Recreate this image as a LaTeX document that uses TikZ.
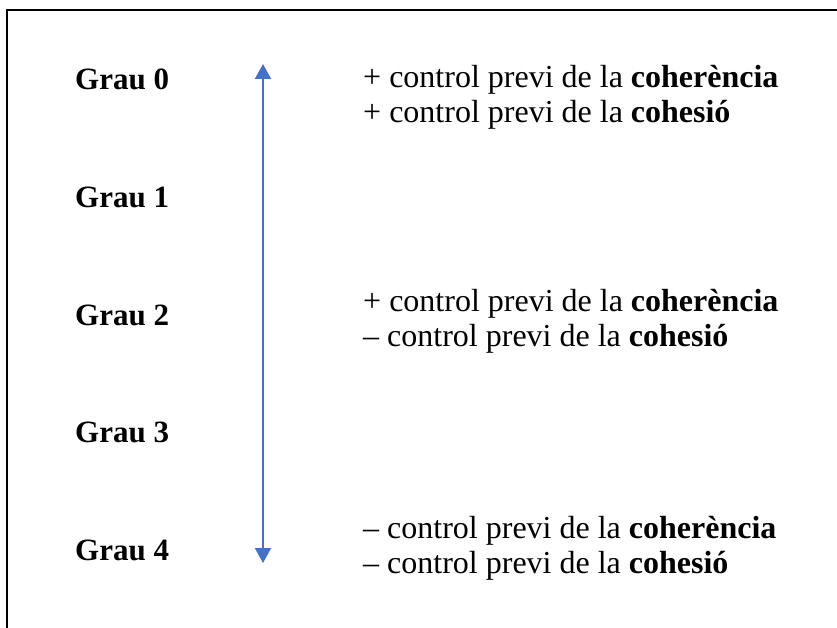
\documentclass[tikz,border=0pt]{standalone}
\usepackage{fontspec}
\setmainfont{Liberation Serif}
\usetikzlibrary{arrows.meta}
\definecolor{arrowblue}{RGB}{68,114,196}
\begin{document}
\begin{tikzpicture}[x=1pt,y=-1pt,
  grau/.style={anchor=base west,inner sep=0pt,font=\fontsize{31}{35}\selectfont\bfseries},
  desc/.style={anchor=base west,inner sep=0pt,font=\fontsize{32}{35}\selectfont},
  frameline/.style={line width=2pt,black},
  scalearrow/.style={line width=2pt,arrowblue,{Triangle[width=16pt,length=15pt]}-{Triangle[width=16pt,length=15pt]}}]
\useasboundingbox (0,0) rectangle (837,628);
\coordinate (tl) at (7,10.5);
\coordinate (tr) at (837,10.5);
\coordinate (bl) at (7,628);
\draw[frameline] (tr) -- (tl) -- (bl);
\node[grau] (g0) at (75,90) {Grau 0};
\node[grau] (g1) at (75,207.5) {Grau 1};
\node[grau] (g2) at (75,325) {Grau 2};
\node[grau] (g3) at (75,442.5) {Grau 3};
\node[grau] (g4) at (75,560) {Grau 4};
\coordinate (atop) at (263,64);
\coordinate (abot) at (263,563);
\draw[scalearrow] (abot) -- (atop);
\node[desc] (a1) at (363,88) {+ control previ de la \textbf{coherència}};
\node[desc] (a2) at (363,123) {+ control previ de la \textbf{cohesió}};
\node[desc] (b1) at (363,311) {+ control previ de la \textbf{coherència}};
\node[desc] (b2) at (363,346) {– control previ de la \textbf{cohesió}};
\node[desc] (c1) at (363,538) {– control previ de la \textbf{coherència}};
\node[desc] (c2) at (363,573) {– control previ de la \textbf{cohesió}};
\end{tikzpicture}
\end{document}
